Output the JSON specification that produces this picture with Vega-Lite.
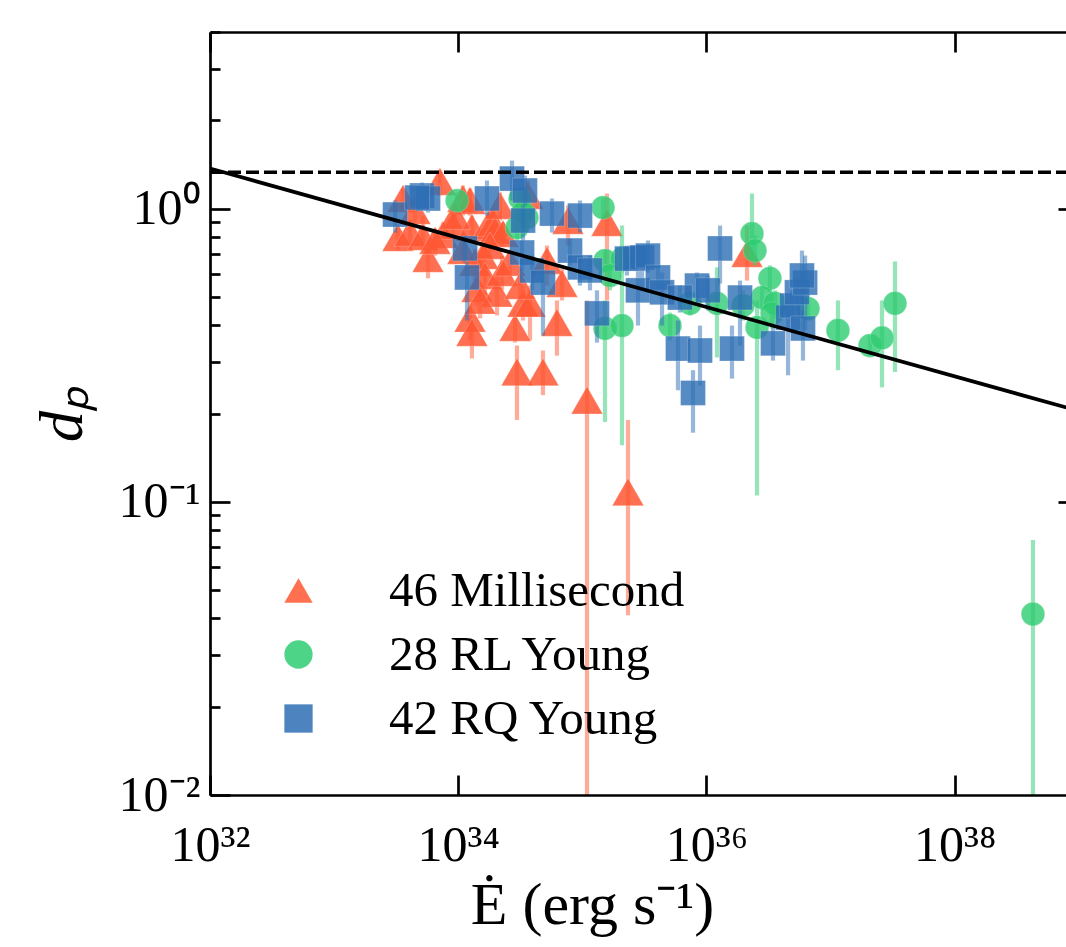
{
  "$schema": "https://vega.github.io/schema/vega-lite/v6.json",
  "width": 856,
  "height": 763,
  "autosize": {"type": "none"},
  "padding": {"left": 210, "top": 32, "right": 0, "bottom": 152},
  "background": "white",
  "config": {
    "view": {"stroke": null},
    "font": "Liberation Serif",
    "axis": {"grid": false, "domainColor": "black", "tickColor": "black", "domainWidth": 2.7, "tickWidth": 2.7, "labelFont": "Liberation Serif", "titleFont": "Liberation Serif", "labelColor": "black", "titleColor": "black", "titleFontWeight": "normal"},
    "legend": {"labelFont": "Liberation Serif", "labelFontSize": 49, "labelColor": "black", "labelLimit": 600}
  },
  "datasets": {
    "pts": [
      {"g": "46 Millisecond", "E": 3.27e33, "d": 0.796, "lo": 0.719, "hi": 0.875},
      {"g": "46 Millisecond", "E": 3.59e33, "d": 1.082, "lo": 0.984, "hi": 1.170},
      {"g": "46 Millisecond", "E": 4.09e33, "d": 0.828, "lo": 0.748, "hi": 0.910},
      {"g": "46 Millisecond", "E": 5.20e33, "d": 0.802, "lo": 0.719, "hi": 0.946},
      {"g": "46 Millisecond", "E": 5.71e33, "d": 0.675, "lo": 0.578, "hi": 0.778},
      {"g": "46 Millisecond", "E": 7.13e33, "d": 1.236, "lo": 1.108, "hi": 1.347},
      {"g": "46 Millisecond", "E": 7.54e33, "d": 0.815, "lo": 0.731, "hi": 0.896},
      {"g": "46 Millisecond", "E": 9.08e33, "d": 0.875, "lo": 0.778, "hi": 0.984},
      {"g": "46 Millisecond", "E": 1.09e34, "d": 1.082, "lo": 0.946, "hi": 1.198},
      {"g": "46 Millisecond", "E": 1.245e34, "d": 1.065, "lo": 0.946, "hi": 1.170},
      {"g": "46 Millisecond", "E": 1.29e34, "d": 0.861, "lo": 0.766, "hi": 0.946},
      {"g": "46 Millisecond", "E": 1.245e34, "d": 0.422, "lo": 0.355, "hi": 0.486},
      {"g": "46 Millisecond", "E": 1.29e34, "d": 0.378, "lo": 0.308, "hi": 0.415},
      {"g": "46 Millisecond", "E": 1.365e34, "d": 0.655, "lo": 0.568, "hi": 0.731},
      {"g": "46 Millisecond", "E": 1.417e34, "d": 0.533, "lo": 0.467, "hi": 0.615},
      {"g": "46 Millisecond", "E": 1.585e34, "d": 0.691, "lo": 0.615, "hi": 0.778},
      {"g": "46 Millisecond", "E": 1.644e34, "d": 0.591, "lo": 0.506, "hi": 0.665},
      {"g": "46 Millisecond", "E": 1.738e34, "d": 0.875, "lo": 0.778, "hi": 0.969},
      {"g": "46 Millisecond", "E": 1.906e34, "d": 0.896, "lo": 0.790, "hi": 1.0},
      {"g": "46 Millisecond", "E": 1.98e34, "d": 0.841, "lo": 0.748, "hi": 0.946},
      {"g": "46 Millisecond", "E": 2.055e34, "d": 0.514, "lo": 0.432, "hi": 0.591},
      {"g": "46 Millisecond", "E": 2.254e34, "d": 0.605, "lo": 0.526, "hi": 0.691},
      {"g": "46 Millisecond", "E": 2.868e34, "d": 0.393, "lo": 0.349, "hi": 0.449},
      {"g": "46 Millisecond", "E": 2.977e34, "d": 0.277, "lo": 0.190, "hi": 0.341},
      {"g": "46 Millisecond", "E": 3.327e34, "d": 0.475, "lo": 0.415, "hi": 0.546},
      {"g": "46 Millisecond", "E": 3.65e34, "d": 1.108, "lo": 0.946, "hi": 1.246},
      {"g": "46 Millisecond", "E": 3.79e34, "d": 0.475, "lo": 0.355, "hi": 0.546},
      {"g": "46 Millisecond", "E": 4.82e34, "d": 0.277, "lo": 0.231, "hi": 0.328},
      {"g": "46 Millisecond", "E": 5.19e34, "d": 0.665, "lo": 0.546, "hi": 0.748},
      {"g": "46 Millisecond", "E": 6.25e34, "d": 0.4085, "lo": 0.315, "hi": 0.486},
      {"g": "46 Millisecond", "E": 6.86e34, "d": 0.555, "lo": 0.486, "hi": 0.625},
      {"g": "46 Millisecond", "E": 7.67e34, "d": 0.910, "lo": 0.748, "hi": 1.024},
      {"g": "46 Millisecond", "E": 1.091e35, "d": 0.222, "lo": 0.008, "hi": 0.486},
      {"g": "46 Millisecond", "E": 1.581e35, "d": 0.896, "lo": 0.486, "hi": 1.125},
      {"g": "46 Millisecond", "E": 2.335e35, "d": 0.108, "lo": 0.041, "hi": 0.190},
      {"g": "46 Millisecond", "E": 2.124e36, "d": 0.702, "lo": 0.568, "hi": 0.875},
      {"g": "46 Millisecond", "E": 1.09e34, "d": 0.719, "lo": 0.655, "hi": 0.778},
      {"g": "46 Millisecond", "E": 2.296e34, "d": 0.821, "lo": 0.742, "hi": 0.896},
      {"g": "46 Millisecond", "E": 4.487e33, "d": 0.984, "lo": 0.896, "hi": 1.065},
      {"g": "46 Millisecond", "E": 1.803e34, "d": 0.748, "lo": 0.675, "hi": 0.828},
      {"g": "46 Millisecond", "E": 2.61e34, "d": 0.655, "lo": 0.578, "hi": 0.719},
      {"g": "46 Millisecond", "E": 6.50e33, "d": 0.778, "lo": 0.691, "hi": 0.854},
      {"g": "46 Millisecond", "E": 1.50e34, "d": 0.486, "lo": 0.422, "hi": 0.546},
      {"g": "46 Millisecond", "E": 3.15e34, "d": 0.546, "lo": 0.486, "hi": 0.615},
      {"g": "46 Millisecond", "E": 9.42e33, "d": 0.946, "lo": 0.854, "hi": 1.04},
      {"g": "46 Millisecond", "E": 2.17e34, "d": 1.024, "lo": 0.910, "hi": 1.134},
      {"g": "28 RL Young", "E": 9.79e33, "d": 1.065, "lo": 0.984, "hi": 1.134},
      {"g": "28 RL Young", "E": 3.15e34, "d": 1.082, "lo": 0.984, "hi": 1.188},
      {"g": "28 RL Young", "E": 2.98e34, "d": 0.861, "lo": 0.778, "hi": 0.946},
      {"g": "28 RL Young", "E": 3.58e34, "d": 0.931, "lo": 0.828, "hi": 1.024},
      {"g": "28 RL Young", "E": 1.469e35, "d": 1.008, "lo": 0.924, "hi": 1.09},
      {"g": "28 RL Young", "E": 1.524e35, "d": 0.665, "lo": 0.605, "hi": 0.719},
      {"g": "28 RL Young", "E": 2.089e35, "d": 0.675, "lo": 0.605, "hi": 0.748},
      {"g": "28 RL Young", "E": 1.671e35, "d": 0.591, "lo": 0.526, "hi": 0.655},
      {"g": "28 RL Young", "E": 1.524e35, "d": 0.390, "lo": 0.187, "hi": 0.486},
      {"g": "28 RL Young", "E": 2.089e35, "d": 0.399, "lo": 0.156, "hi": 0.875},
      {"g": "28 RL Young", "E": 5.09e35, "d": 0.399, "lo": 0.355, "hi": 0.442},
      {"g": "28 RL Young", "E": 7.38e35, "d": 0.475, "lo": 0.432, "hi": 0.518},
      {"g": "28 RL Young", "E": 1.217e36, "d": 0.475, "lo": 0.3105, "hi": 0.630},
      {"g": "28 RL Young", "E": 1.972e36, "d": 0.467, "lo": 0.415, "hi": 0.526},
      {"g": "28 RL Young", "E": 2.33e36, "d": 0.821, "lo": 0.665, "hi": 1.125},
      {"g": "28 RL Young", "E": 2.465e36, "d": 0.719, "lo": 0.640, "hi": 0.809},
      {"g": "28 RL Young", "E": 3.25e36, "d": 0.578, "lo": 0.518, "hi": 0.640},
      {"g": "28 RL Young", "E": 2.81e36, "d": 0.497, "lo": 0.449, "hi": 0.546},
      {"g": "28 RL Young", "E": 3.57e36, "d": 0.475, "lo": 0.422, "hi": 0.526},
      {"g": "28 RL Young", "E": 2.56e36, "d": 0.393, "lo": 0.105, "hi": 0.486},
      {"g": "28 RL Young", "E": 3.38e36, "d": 0.439, "lo": 0.390, "hi": 0.486},
      {"g": "28 RL Young", "E": 6.59e36, "d": 0.456, "lo": 0.415, "hi": 0.506},
      {"g": "28 RL Young", "E": 1.148e37, "d": 0.384, "lo": 0.281, "hi": 0.486},
      {"g": "28 RL Young", "E": 2.08e37, "d": 0.341, "lo": 0.315, "hi": 0.369},
      {"g": "28 RL Young", "E": 2.60e37, "d": 0.362, "lo": 0.2455, "hi": 0.486},
      {"g": "28 RL Young", "E": 3.31e37, "d": 0.475, "lo": 0.277, "hi": 0.660},
      {"g": "28 RL Young", "E": 4.28e38, "d": 0.0414, "lo": 0.008, "hi": 0.074},
      {"g": "28 RL Young", "E": 3.33e34, "d": 0.969, "lo": 0.875, "hi": 1.065},
      {"g": "42 RQ Young", "E": 3.10e33, "d": 0.954, "lo": 0.828, "hi": 1.065},
      {"g": "42 RQ Young", "E": 5.11e33, "d": 1.108, "lo": 1.0, "hi": 1.227},
      {"g": "42 RQ Young", "E": 5.71e33, "d": 1.082, "lo": 0.969, "hi": 1.188},
      {"g": "42 RQ Young", "E": 4.66e33, "d": 1.090, "lo": 0.984, "hi": 1.198},
      {"g": "42 RQ Young", "E": 1.706e34, "d": 1.082, "lo": 0.946, "hi": 1.246},
      {"g": "42 RQ Young", "E": 2.713e34, "d": 1.265, "lo": 1.065, "hi": 1.457},
      {"g": "42 RQ Young", "E": 3.45e34, "d": 1.152, "lo": 1.024, "hi": 1.296},
      {"g": "42 RQ Young", "E": 3.33e34, "d": 0.910, "lo": 0.778, "hi": 1.024},
      {"g": "42 RQ Young", "E": 1.135e34, "d": 0.731, "lo": 0.655, "hi": 0.809},
      {"g": "42 RQ Young", "E": 1.178e34, "d": 0.582, "lo": 0.415, "hi": 0.655},
      {"g": "42 RQ Young", "E": 3.27e34, "d": 0.708, "lo": 0.615, "hi": 0.778},
      {"g": "42 RQ Young", "E": 3.93e34, "d": 0.615, "lo": 0.526, "hi": 0.691},
      {"g": "42 RQ Young", "E": 4.82e34, "d": 0.559, "lo": 0.369, "hi": 0.615},
      {"g": "42 RQ Young", "E": 5.70e34, "d": 0.961, "lo": 0.828, "hi": 1.082},
      {"g": "42 RQ Young", "E": 7.96e34, "d": 0.719, "lo": 0.640, "hi": 0.790},
      {"g": "42 RQ Young", "E": 9.58e34, "d": 0.946, "lo": 0.828, "hi": 1.065},
      {"g": "42 RQ Young", "E": 9.58e34, "d": 0.630, "lo": 0.546, "hi": 0.691},
      {"g": "42 RQ Young", "E": 1.153e35, "d": 0.615, "lo": 0.526, "hi": 0.691},
      {"g": "42 RQ Young", "E": 1.313e35, "d": 0.439, "lo": 0.349, "hi": 0.526},
      {"g": "42 RQ Young", "E": 2.29e35, "d": 0.675, "lo": 0.591, "hi": 0.748},
      {"g": "42 RQ Young", "E": 2.66e35, "d": 0.675, "lo": 0.615, "hi": 0.731},
      {"g": "42 RQ Young", "E": 3.03e35, "d": 0.681, "lo": 0.526, "hi": 0.748},
      {"g": "42 RQ Young", "E": 2.81e35, "d": 0.526, "lo": 0.399, "hi": 0.615},
      {"g": "42 RQ Young", "E": 3.38e35, "d": 0.691, "lo": 0.605, "hi": 0.778},
      {"g": "42 RQ Young", "E": 4.07e35, "d": 0.582, "lo": 0.526, "hi": 0.640},
      {"g": "42 RQ Young", "E": 4.39e35, "d": 0.518, "lo": 0.399, "hi": 0.605},
      {"g": "42 RQ Young", "E": 5.90e35, "d": 0.333, "lo": 0.240, "hi": 0.415},
      {"g": "42 RQ Young", "E": 8.88e35, "d": 0.328, "lo": 0.249, "hi": 0.399},
      {"g": "42 RQ Young", "E": 7.80e35, "d": 0.235, "lo": 0.172, "hi": 0.281},
      {"g": "42 RQ Young", "E": 8.40e35, "d": 0.546, "lo": 0.486, "hi": 0.605},
      {"g": "42 RQ Young", "E": 1.03e36, "d": 0.526, "lo": 0.449, "hi": 0.591},
      {"g": "42 RQ Young", "E": 6.12e35, "d": 0.497, "lo": 0.442, "hi": 0.546},
      {"g": "42 RQ Young", "E": 1.288e36, "d": 0.731, "lo": 0.555, "hi": 0.875},
      {"g": "42 RQ Young", "E": 1.607e36, "d": 0.333, "lo": 0.263, "hi": 0.399},
      {"g": "42 RQ Young", "E": 1.866e36, "d": 0.497, "lo": 0.341, "hi": 0.568},
      {"g": "42 RQ Young", "E": 3.44e36, "d": 0.347, "lo": 0.303, "hi": 0.399},
      {"g": "42 RQ Young", "E": 4.55e36, "d": 0.4245, "lo": 0.270, "hi": 0.486},
      {"g": "42 RQ Young", "E": 4.90e36, "d": 0.467, "lo": 0.415, "hi": 0.526},
      {"g": "42 RQ Young", "E": 5.37e36, "d": 0.518, "lo": 0.467, "hi": 0.578},
      {"g": "42 RQ Young", "E": 6.00e36, "d": 0.390, "lo": 0.303, "hi": 0.449},
      {"g": "42 RQ Young", "E": 6.24e36, "d": 0.559, "lo": 0.384, "hi": 0.691},
      {"g": "42 RQ Young", "E": 5.89e36, "d": 0.591, "lo": 0.486, "hi": 0.719}
    ],
    "fit": [{"E": 1e32, "d": 1.37}, {"E": 1e39, "d": 0.204}],
    "lim": [{"E": 1e32, "d": 1.33}, {"E": 1e39, "d": 1.33}]
  },
  "layer": [
    {
      "data": {"name": "pts"},
      "transform": [{"filter": "datum.g == '46 Millisecond'"}],
      "mark": {"type": "rule", "color": "#FF5733", "opacity": 0.5, "strokeWidth": 4.2, "clip": true},
      "encoding": {
        "x": {"field": "E", "type": "quantitative", "scale": {"type": "log", "domain": [1e32, 7.9e38], "nice": false},
          "axis": {"orient": "bottom", "values": [1e32, 1e34, 1e36, 1e38], "labelExpr": "datum.value==1e32?'10³²':datum.value==1e34?'10³⁴':datum.value==1e36?'10³⁶':'10³⁸'", "tickSize": -20, "labelPadding": 45, "labelFontSize": 50, "labelFlush": false, "labelOverlap": false, "zindex": 1,
            "title": "Ė (erg s⁻¹)", "titleFontSize": 60, "titleX": 382, "titleAlign": "center", "titlePadding": 6}},
        "y": {"field": "lo", "type": "quantitative", "scale": {"type": "log", "domain": [0.01, 4], "nice": false},
          "axis": {"orient": "left", "values": [0.01, 0.02, 0.03, 0.04, 0.05, 0.06, 0.07, 0.08, 0.09, 0.1, 0.2, 0.3, 0.4, 0.5, 0.6, 0.7, 0.8, 0.9, 1, 2, 3, 4],
            "labelExpr": "datum.value==1?'10⁰':datum.value==0.1?'10⁻¹':datum.value==0.01?'10⁻²':''",
            "tickSize": {"condition": {"test": "datum.value==1||datum.value==0.1||datum.value==0.01", "value": -20}, "value": -10},
            "labelPadding": 30, "labelFontSize": 50, "labelFlush": false, "labelOverlap": false, "zindex": 1,
            "title": "dₚ", "titleFontSize": 62, "titleFontStyle": "italic", "titlePadding": 24}},
        "y2": {"field": "hi"}
      }
    },
    {
      "data": {"name": "pts"},
      "transform": [{"filter": "datum.g == '46 Millisecond'"}],
      "mark": {"type": "point", "filled": true, "opacity": 0.85, "size": 1000, "stroke": "white", "strokeWidth": 1, "strokeOpacity": 0.25},
      "encoding": {
        "x": {"field": "E", "type": "quantitative", "scale": {"type": "log", "domain": [1e32, 7.9e38], "nice": false},
          "axis": {"orient": "top", "values": [1e32, 1e34, 1e36, 1e38], "labels": false, "tickSize": -20, "title": null, "zindex": 1}},
        "y": {"field": "d", "type": "quantitative", "scale": {"type": "log", "domain": [0.01, 4], "nice": false},
          "axis": {"orient": "right", "values": [0.1, 1], "labels": false, "domain": false, "tickSize": -8, "title": null, "zindex": 1}},
        "color": {"field": "g", "type": "nominal", "scale": {"domain": ["46 Millisecond", "28 RL Young", "42 RQ Young"], "range": ["#FF5733", "#2ECC71", "#2E6FB5"]},
          "legend": {"orient": "none", "legendX": 64, "legendY": 534, "title": null, "padding": 0, "symbolSize": 800, "symbolOpacity": 0.85, "symbolStrokeWidth": 0, "labelFontSize": 49, "labelOffset": 66, "rowPadding": 14, "labelLimit": 600}},
        "shape": {"field": "g", "type": "nominal", "scale": {"domain": ["46 Millisecond", "28 RL Young", "42 RQ Young"], "range": ["triangle-up", "circle", "square"]},
          "legend": {"orient": "none", "legendX": 64, "legendY": 534, "title": null, "padding": 0, "symbolSize": 800, "symbolOpacity": 0.85, "symbolStrokeWidth": 0, "labelFontSize": 49, "labelOffset": 66, "rowPadding": 14, "labelLimit": 600}}
      }
    },
    {
      "data": {"name": "pts"},
      "transform": [{"filter": "datum.g == '28 RL Young'"}],
      "mark": {"type": "rule", "color": "#2ECC71", "opacity": 0.5, "strokeWidth": 4.2, "clip": true},
      "encoding": {
        "x": {"field": "E", "type": "quantitative", "scale": {"type": "log", "domain": [1e32, 7.9e38], "nice": false}, "axis": null},
        "y": {"field": "lo", "type": "quantitative", "scale": {"type": "log", "domain": [0.01, 4], "nice": false}, "axis": null},
        "y2": {"field": "hi"}
      }
    },
    {
      "data": {"name": "pts"},
      "transform": [{"filter": "datum.g == '28 RL Young'"}],
      "mark": {"type": "point", "filled": true, "opacity": 0.8, "size": 560, "stroke": "white", "strokeWidth": 1, "strokeOpacity": 0.25},
      "encoding": {
        "x": {"field": "E", "type": "quantitative", "scale": {"type": "log", "domain": [1e32, 7.9e38], "nice": false}, "axis": null},
        "y": {"field": "d", "type": "quantitative", "scale": {"type": "log", "domain": [0.01, 4], "nice": false}, "axis": null},
        "color": {"field": "g", "type": "nominal", "scale": {"domain": ["46 Millisecond", "28 RL Young", "42 RQ Young"], "range": ["#FF5733", "#2ECC71", "#2E6FB5"]},
          "legend": {"orient": "none", "legendX": 64, "legendY": 534, "title": null, "padding": 0, "symbolSize": 800, "symbolOpacity": 0.85, "symbolStrokeWidth": 0, "labelFontSize": 49, "labelOffset": 66, "rowPadding": 14, "labelLimit": 600}},
        "shape": {"field": "g", "type": "nominal", "scale": {"domain": ["46 Millisecond", "28 RL Young", "42 RQ Young"], "range": ["triangle-up", "circle", "square"]},
          "legend": {"orient": "none", "legendX": 64, "legendY": 534, "title": null, "padding": 0, "symbolSize": 800, "symbolOpacity": 0.85, "symbolStrokeWidth": 0, "labelFontSize": 49, "labelOffset": 66, "rowPadding": 14, "labelLimit": 600}}
      }
    },
    {
      "data": {"name": "pts"},
      "transform": [{"filter": "datum.g == '42 RQ Young'"}],
      "mark": {"type": "rule", "color": "#2E6FB5", "opacity": 0.5, "strokeWidth": 4.2, "clip": true},
      "encoding": {
        "x": {"field": "E", "type": "quantitative", "scale": {"type": "log", "domain": [1e32, 7.9e38], "nice": false}, "axis": null},
        "y": {"field": "lo", "type": "quantitative", "scale": {"type": "log", "domain": [0.01, 4], "nice": false}, "axis": null},
        "y2": {"field": "hi"}
      }
    },
    {
      "data": {"name": "pts"},
      "transform": [{"filter": "datum.g == '42 RQ Young'"}],
      "mark": {"type": "point", "filled": true, "opacity": 0.8, "size": 620, "stroke": "white", "strokeWidth": 1, "strokeOpacity": 0.25},
      "encoding": {
        "x": {"field": "E", "type": "quantitative", "scale": {"type": "log", "domain": [1e32, 7.9e38], "nice": false}, "axis": null},
        "y": {"field": "d", "type": "quantitative", "scale": {"type": "log", "domain": [0.01, 4], "nice": false}, "axis": null},
        "color": {"field": "g", "type": "nominal", "scale": {"domain": ["46 Millisecond", "28 RL Young", "42 RQ Young"], "range": ["#FF5733", "#2ECC71", "#2E6FB5"]},
          "legend": {"orient": "none", "legendX": 64, "legendY": 534, "title": null, "padding": 0, "symbolSize": 800, "symbolOpacity": 0.85, "symbolStrokeWidth": 0, "labelFontSize": 49, "labelOffset": 66, "rowPadding": 14, "labelLimit": 600}},
        "shape": {"field": "g", "type": "nominal", "scale": {"domain": ["46 Millisecond", "28 RL Young", "42 RQ Young"], "range": ["triangle-up", "circle", "square"]},
          "legend": {"orient": "none", "legendX": 64, "legendY": 534, "title": null, "padding": 0, "symbolSize": 800, "symbolOpacity": 0.85, "symbolStrokeWidth": 0, "labelFontSize": 49, "labelOffset": 66, "rowPadding": 14, "labelLimit": 600}}
      }
    },
    {
      "data": {"name": "lim"},
      "mark": {"type": "line", "color": "black", "strokeWidth": 3.7, "strokeDash": [13, 5], "clip": true},
      "encoding": {
        "x": {"field": "E", "type": "quantitative", "scale": {"type": "log", "domain": [1e32, 7.9e38], "nice": false}, "axis": null},
        "y": {"field": "d", "type": "quantitative", "scale": {"type": "log", "domain": [0.01, 4], "nice": false}, "axis": null}
      }
    },
    {
      "data": {"name": "fit"},
      "mark": {"type": "line", "color": "black", "strokeWidth": 3.7, "clip": true},
      "encoding": {
        "x": {"field": "E", "type": "quantitative", "scale": {"type": "log", "domain": [1e32, 7.9e38], "nice": false}, "axis": null},
        "y": {"field": "d", "type": "quantitative", "scale": {"type": "log", "domain": [0.01, 4], "nice": false}, "axis": null}
      }
    }
  ],
  "resolve": {"axis": {"x": "independent", "y": "independent"}}
}
